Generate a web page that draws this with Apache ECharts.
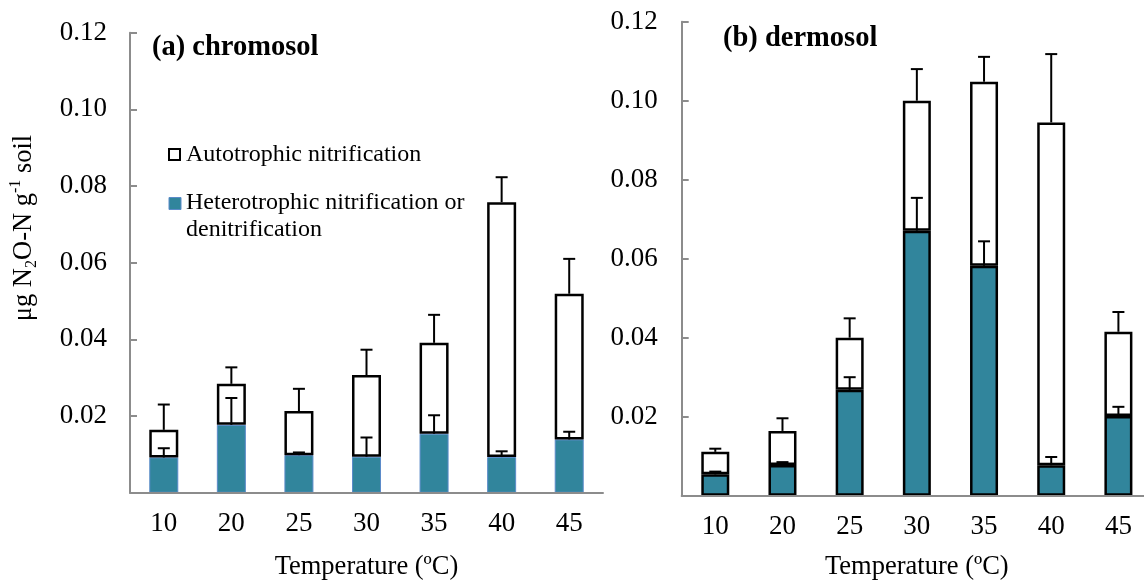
<!DOCTYPE html>
<html>
<head>
<meta charset="utf-8">
<script src="https://cdn.jsdelivr.net/npm/echarts@6/dist/echarts.min.js"></script>
<style>
html, body { margin: 0; padding: 0; background: #fff; }
#chart { width: 1144px; height: 584px; }
</style>
</head>
<body>
<div id="chart"></div>
<script>
// temperature classes (ºC)
var temps = ['10', '20', '25', '30', '35', '40', '45'];
var yTicks = [0, 0.02, 0.04, 0.06, 0.08, 0.10, 0.12];

// (a) chromosol
var heteroA = [0.0092, 0.0177, 0.0098, 0.0094, 0.0154, 0.0093, 0.0139];
var autoA = [0.0072, 0.0107, 0.0115, 0.0213, 0.0237, 0.0665, 0.0380];
var heteroErrA = [0.0024, 0.0070, 0.0007, 0.0050, 0.0048, 0.0015, 0.0020];
var totalErrA = [0.0066, 0.0043, 0.0058, 0.0066, 0.0073, 0.0065, 0.0091];

// (b) dermosol
var heteroB = [0.0054, 0.0078, 0.0268, 0.0671, 0.0582, 0.0077, 0.0202];
var autoB = [0.0057, 0.0086, 0.0132, 0.0329, 0.0466, 0.0868, 0.0213];
var heteroErrB = [0.0007, 0.0007, 0.0032, 0.0083, 0.0062, 0.0021, 0.0023];
var totalErrB = [0.0008, 0.0032, 0.0049, 0.0080, 0.0063, 0.0173, 0.0050];

var chart = echarts.init(document.getElementById('chart'), null, { renderer: 'canvas' });

var FONT = '"Liberation Serif", "Times New Roman", serif';
var TEAL = '#31859c';
var AXIS_GRAY = '#8c8c8c';

// [index, base, err] rows for the error bar series
function errRows(hetero, auto, err, onTotal) {
    return hetero.map(function (h, i) {
        var base = onTotal ? h + auto[i] : h;
        return [i, base, err[i]];
    });
}

function errorBar(params, api) {
    var x = api.value(0);
    var base = api.coord([x, api.value(1)]);
    var top = api.coord([x, api.value(1) + api.value(2)]);
    var half = 6;
    var st = { stroke: '#000', lineWidth: 2 };
    return {
        type: 'group',
        children: [
            { type: 'line', shape: { x1: base[0], y1: base[1], x2: top[0], y2: top[1] }, style: st },
            { type: 'line', shape: { x1: top[0] - half, y1: top[1], x2: top[0] + half, y2: top[1] }, style: st }
        ]
    };
}

function xAxisCfg(gridIndex, gap) {
    return {
        type: 'category',
        gridIndex: gridIndex,
        data: temps,
        z: 6,
        name: 'Temperature (ºC)',
        nameLocation: 'middle',
        nameGap: gap,
        nameTextStyle: { fontFamily: FONT, fontSize: 26.5, color: '#000' },
        axisLine: { lineStyle: { color: AXIS_GRAY, width: 2 } },
        axisTick: { show: false },
        axisLabel: { fontFamily: FONT, fontSize: 27, color: '#000', margin: 18 }
    };
}

function yAxisCfg(gridIndex, margin) {
    return {
        type: 'value',
        gridIndex: gridIndex,
        min: yTicks[0],
        max: yTicks[yTicks.length - 1],
        interval: 0.02,
        splitLine: { show: false },
        axisLine: { show: true, lineStyle: { color: AXIS_GRAY, width: 2 } },
        axisTick: { show: true, inside: true, length: 7, lineStyle: { color: AXIS_GRAY, width: 2 } },
        axisLabel: {
            fontFamily: FONT, fontSize: 27, color: '#000', margin: margin,
            formatter: function (v) { return v === 0 ? '' : v.toFixed(2); }
        }
    };
}

var option = {
    animation: false,
    backgroundColor: '#fff',
    grid: [
        { left: 130, top: 32.7, width: 473, height: 460, outerBoundsMode: 'none' },
        { left: 681.7, top: 21.7, width: 470.3, height: 474, outerBoundsMode: 'none' }
    ],
    xAxis: [xAxisCfg(0, 61), xAxisCfg(1, 58)],
    yAxis: [yAxisCfg(0, 23), yAxisCfg(1, 24)],
    series: [
        {
            name: 'Heterotrophic nitrification or denitrification', type: 'bar', stack: 'a',
            xAxisIndex: 0, yAxisIndex: 0, barWidth: 29, data: heteroA,
            itemStyle: { color: TEAL, borderColor: '#5b8bc9', borderWidth: 1 }
        },
        {
            name: 'Autotrophic nitrification', type: 'bar', stack: 'a',
            xAxisIndex: 0, yAxisIndex: 0, barWidth: 29, data: autoA,
            itemStyle: { color: '#fff', borderColor: '#000', borderWidth: 2.5 }
        },
        {
            type: 'custom', xAxisIndex: 0, yAxisIndex: 0, z: 5,
            renderItem: errorBar, data: errRows(heteroA, autoA, totalErrA, true)
        },
        {
            type: 'custom', xAxisIndex: 0, yAxisIndex: 0, z: 5,
            renderItem: errorBar, data: errRows(heteroA, autoA, heteroErrA, false)
        },
        {
            name: 'Heterotrophic nitrification or denitrification', type: 'bar', stack: 'b',
            xAxisIndex: 1, yAxisIndex: 1, barWidth: 28, data: heteroB,
            itemStyle: { color: TEAL, borderColor: '#000', borderWidth: 2.5 }
        },
        {
            name: 'Autotrophic nitrification', type: 'bar', stack: 'b',
            xAxisIndex: 1, yAxisIndex: 1, barWidth: 28, data: autoB,
            itemStyle: { color: '#fff', borderColor: '#000', borderWidth: 2.5 }
        },
        {
            type: 'custom', xAxisIndex: 1, yAxisIndex: 1, z: 5,
            renderItem: errorBar, data: errRows(heteroB, autoB, totalErrB, true)
        },
        {
            type: 'custom', xAxisIndex: 1, yAxisIndex: 1, z: 5,
            renderItem: errorBar, data: errRows(heteroB, autoB, heteroErrB, false)
        }
    ],
    graphic: [
        // panel titles
        {
            type: 'text', x: 152, y: 48,
            style: { text: '(a) chromosol', fontFamily: FONT, fontSize: 28.5, fontWeight: 'bold', fill: '#000', verticalAlign: 'middle' }
        },
        {
            type: 'text', x: 723, y: 39,
            style: { text: '(b) dermosol', fontFamily: FONT, fontSize: 28.5, fontWeight: 'bold', fill: '#000', verticalAlign: 'middle' }
        },
        // legend
        {
            type: 'rect', shape: { x: 169, y: 149, width: 11, height: 11 },
            style: { fill: '#fff', stroke: '#000', lineWidth: 2 }
        },
        {
            type: 'text', x: 186, y: 155,
            style: { text: 'Autotrophic nitrification', fontFamily: FONT, fontSize: 24, fill: '#000', verticalAlign: 'middle' }
        },
        {
            type: 'rect', shape: { x: 169, y: 197.5, width: 12, height: 12 },
            style: { fill: TEAL, stroke: '#5b8bc9', lineWidth: 1 }
        },
        {
            type: 'text', x: 186, y: 189.5,
            style: {
                text: 'Heterotrophic nitrification or\ndenitrification',
                fontFamily: FONT, fontSize: 24, lineHeight: 27, fill: '#000'
            }
        },
        // y axis name
        {
            type: 'text', x: 24, y: 228, rotation: Math.PI / 2,
            style: {
                text: '{n|μg N}{sub|2}{n|O-N g}{sup|-1}{n| soil}',
                align: 'center', verticalAlign: 'middle',
                rich: {
                    n: { fontFamily: FONT, fontSize: 26.5, lineHeight: 32, fill: '#000' },
                    sub: { fontFamily: FONT, fontSize: 16, lineHeight: 17, verticalAlign: 'bottom', fill: '#000' },
                    sup: { fontFamily: FONT, fontSize: 16, lineHeight: 17, verticalAlign: 'top', fill: '#000' }
                }
            }
        }
    ]
};

chart.setOption(option);
</script>
</body>
</html>
